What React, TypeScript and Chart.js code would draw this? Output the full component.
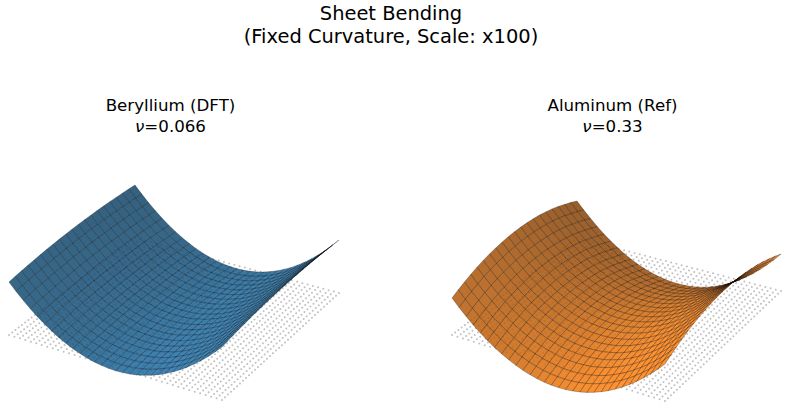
import { useEffect, useRef } from "react";
import { Chart, registerables } from "chart.js";
Chart.register(...registerables);

// bend profiles: height across and along the sheet, 1 = raised corner
const beBendU = [1, 0.863, 0.736, 0.618, 0.51, 0.411, 0.322, 0.241, 0.171, 0.11, 0.058, 0.016, -0.018, -0.041, -0.055, -0.06, -0.055, -0.041, -0.018, 0.016, 0.058, 0.11, 0.171, 0.241, 0.322, 0.411, 0.51, 0.618, 0.736, 0.863, 1];
const beBendV = [0, 0.015, 0.029, 0.041, 0.051, 0.06, 0.067, 0.072, 0.077, 0.079, 0.08, 0.079, 0.077, 0.072, 0.067, 0.06, 0.051, 0.041, 0.029, 0.015, 0];
const alBendU = [1, 0.802, 0.62, 0.449, 0.292, 0.15, 0.021, -0.095, -0.196, -0.285, -0.36, -0.421, -0.469, -0.503, -0.523, -0.53, -0.523, -0.503, -0.469, -0.421, -0.36, -0.285, -0.196, -0.095, 0.021, 0.15, 0.292, 0.449, 0.62, 0.802, 1];
const alBendV = [0, 0.09, 0.17, 0.245, 0.31, 0.36, 0.405, 0.435, 0.46, 0.475, 0.48, 0.475, 0.46, 0.435, 0.405, 0.36, 0.31, 0.245, 0.17, 0.09, 0];

const DOT_COUNT = 40;
const LIGHT = [-0.667, -0.667, 0.333];
const SLOPE_KU = 0.005;
const SLOPE_KV = 0.009;

type Corners = { L: number[]; F: number[]; B: number[]; R: number[] };

function plate(c: Corners, u: number, v: number) {
  const x = (1 - u) * (1 - v) * c.L[0] + u * (1 - v) * c.F[0] + (1 - u) * v * c.B[0] + u * v * c.R[0];
  const y = (1 - u) * (1 - v) * c.L[1] + u * (1 - v) * c.F[1] + (1 - u) * v * c.B[1] + u * v * c.R[1];
  return { x, y };
}

function buildDatasets(bendU: number[], bendV: number[], zScale: number, corners: Corners, rgb: number[]) {
  const nU = bendU.length - 1;
  const nV = bendV.length - 1;
  const nodes = bendU.map((fu, i) => bendV.map((gv, j) => {
    const p = plate(corners, i / nU, j / nV);
    const z = zScale * (fu + gv);
    return { x: p.x, y: p.y - z, z };
  }));

  const cells: any[] = [];
  for (let i = 0; i < nU; i++) {
    for (let j = 0; j < nV; j++) {
      const zu = ((nodes[i + 1][j].z + nodes[i + 1][j + 1].z) - (nodes[i][j].z + nodes[i][j + 1].z)) / 2 * nU;
      const zv = ((nodes[i][j + 1].z + nodes[i + 1][j + 1].z) - (nodes[i][j].z + nodes[i + 1][j].z)) / 2 * nV;
      const nu = -SLOPE_KU * zu, nv = -SLOPE_KV * zv;
      const len = Math.hypot(nu, nv, 1);
      const d = (nu * LIGHT[0] + nv * LIGHT[1] + LIGHT[2]) / len;
      const s = Math.min(1, 0.35 + 0.7 * (d + 1) / 2);
      const zMid = (nodes[i][j].z + nodes[i + 1][j].z + nodes[i][j + 1].z + nodes[i + 1][j + 1].z) / 4;
      cells.push({
        depth: 143 * ((i + 0.5) / nU - (j + 0.5) / nV) + 0.58 * zMid,
        pts: [nodes[i][j], nodes[i + 1][j], nodes[i + 1][j + 1], nodes[i][j + 1], nodes[i][j]].map(({ x, y }) => ({ x, y })),
        color: `rgba(${rgb[0] * s},${rgb[1] * s},${rgb[2] * s},0.85)`,
      });
    }
  }
  // chart.js paints the first dataset on top, so nearest cells go first
  cells.sort((a, b) => b.depth - a.depth);
  const faces = cells.map((c) => ({
    type: "scatter", data: c.pts, showLine: true, fill: "shape", tension: 0,
    backgroundColor: c.color, borderColor: "rgba(0,0,0,0.5)", borderWidth: 0.5, pointRadius: 0,
  }));

  const dots: { x: number; y: number }[] = [];
  for (let i = 0; i < DOT_COUNT; i++) {
    for (let j = 0; j < DOT_COUNT; j++) dots.push(plate(corners, i / (DOT_COUNT - 1), j / (DOT_COUNT - 1)));
  }
  return [...faces, { type: "scatter", data: dots, showLine: false, pointRadius: 1, borderWidth: 0, backgroundColor: "rgba(150,150,150,0.6)" }];
}

function Surface({ bendU, bendV, zScale, corners, rgb, left, width }: {
  bendU: number[]; bendV: number[]; zScale: number; corners: Corners; rgb: number[]; left: number; width: number;
}) {
  const ref = useRef<HTMLCanvasElement>(null);
  useEffect(() => {
    if (!ref.current) return;
    const chart = new Chart(ref.current, {
      type: "scatter",
      data: { datasets: buildDatasets(bendU, bendV, zScale, corners, rgb) as any },
      options: {
        animation: false,
        responsive: false,
        layout: { padding: 0, autoPadding: false },
        plugins: { legend: { display: false }, tooltip: { enabled: false } },
        events: [],
        scales: {
          x: { type: "linear", display: false, min: left, max: left + width },
          y: { type: "linear", display: false, min: 165, max: 415, reverse: true },
        },
      },
    });
    return () => chart.destroy();
  }, [bendU, bendV, zScale, corners, rgb, left, width]);
  return <canvas ref={ref} width={width} height={250} style={{ position: "absolute", left, top: 165, width, height: 250 }} />;
}

const font = "'DejaVu Sans', sans-serif";
const textStyle = (cx: number, top: number, size: number, lh: number) => ({
  position: "absolute" as const, left: cx - 200, width: 400, top, textAlign: "center" as const,
  fontFamily: font, fontSize: size, lineHeight: `${lh}px`, color: "#000",
});

const beCorners = { L: [9, 335], F: [222, 400], B: [135, 238], R: [339, 293] };
const alCorners = { L: [452, 335], F: [665, 401], B: [577, 238], R: [781, 291] };
const beRgb = [31, 119, 180];
const alRgb = [255, 127, 14];

export default function App() {
  return (
    <div style={{ position: "fixed", left: 0, top: 0, width: 786, height: 415, background: "#fff", overflow: "hidden" }}>
      <div style={textStyle(391, 2, 19.44, 23)}>Sheet Bending<br />(Fixed Curvature, Scale: x100)</div>
      <div style={textStyle(170.5, 95, 16.67, 21)}>Beryllium (DFT)<br /><i>ν</i>=0.066</div>
      <div style={textStyle(612.5, 95, 16.67, 21)}>Aluminum (Ref)<br /><i>ν</i>=0.33</div>
      <Surface bendU={beBendU} bendV={beBendV} zScale={53} corners={beCorners} rgb={beRgb} left={0} width={393} />
      <Surface bendU={alBendU} bendV={alBendV} zScale={37} corners={alCorners} rgb={alRgb} left={393} width={393} />
    </div>
  );
}
